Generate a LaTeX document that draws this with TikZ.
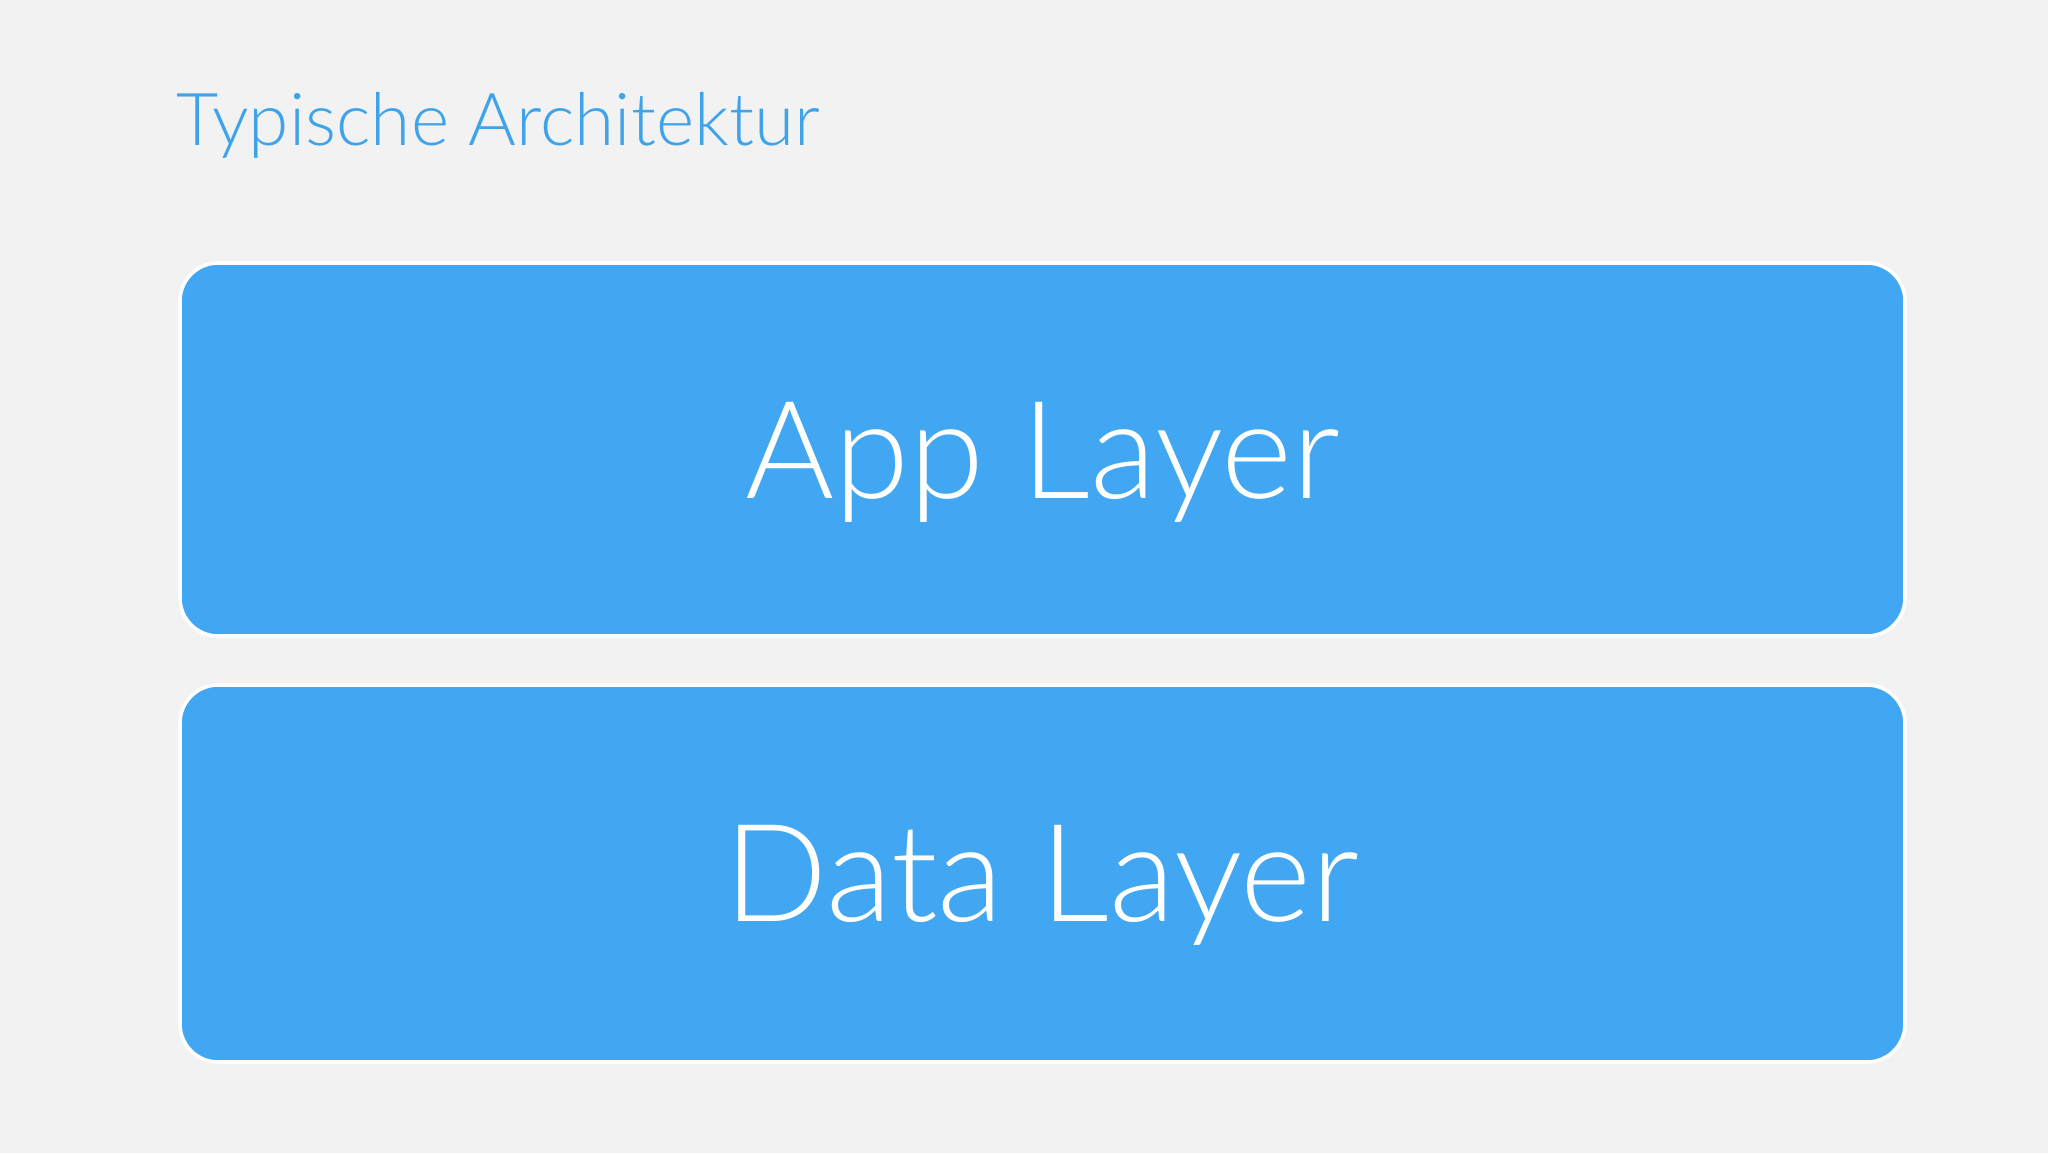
\documentclass[tikz,border=0pt]{standalone}
\usepackage{fontspec}
\setmainfont{Lato}[UprightFont=* Light]
\definecolor{bg}{HTML}{F2F2F3}
\definecolor{boxblue}{HTML}{41A7F2}
\definecolor{titleblue}{HTML}{3FA3EA}
\begin{document}
\begin{tikzpicture}[x=0.5pt,y=-0.5pt,
  layerbox/.style={fill=boxblue,draw=white,line width=1.8pt,rounded corners=19pt},
  layertext/.style={anchor=base,text=white,font=\fontsize{68}{72}\selectfont,inner sep=0pt},
  titletext/.style={anchor=base west,text=titleblue,font=\fontsize{36.5}{40}\selectfont,inner sep=0pt}]
\fill[bg] (0,0) rectangle (2048,1153);
\useasboundingbox (0,0) rectangle (2048,1153);
\node[titletext] (title) at (176,145) {Typische Architektur};
\draw[layerbox] (180,263) rectangle (1905,636);
\draw[layerbox] (180,685) rectangle (1905,1062);
\node[layertext] (app) at (1043,498) {App Layer};
\node[layertext] (data) at (1042,921) {Data Layer};
\end{tikzpicture}
\end{document}
